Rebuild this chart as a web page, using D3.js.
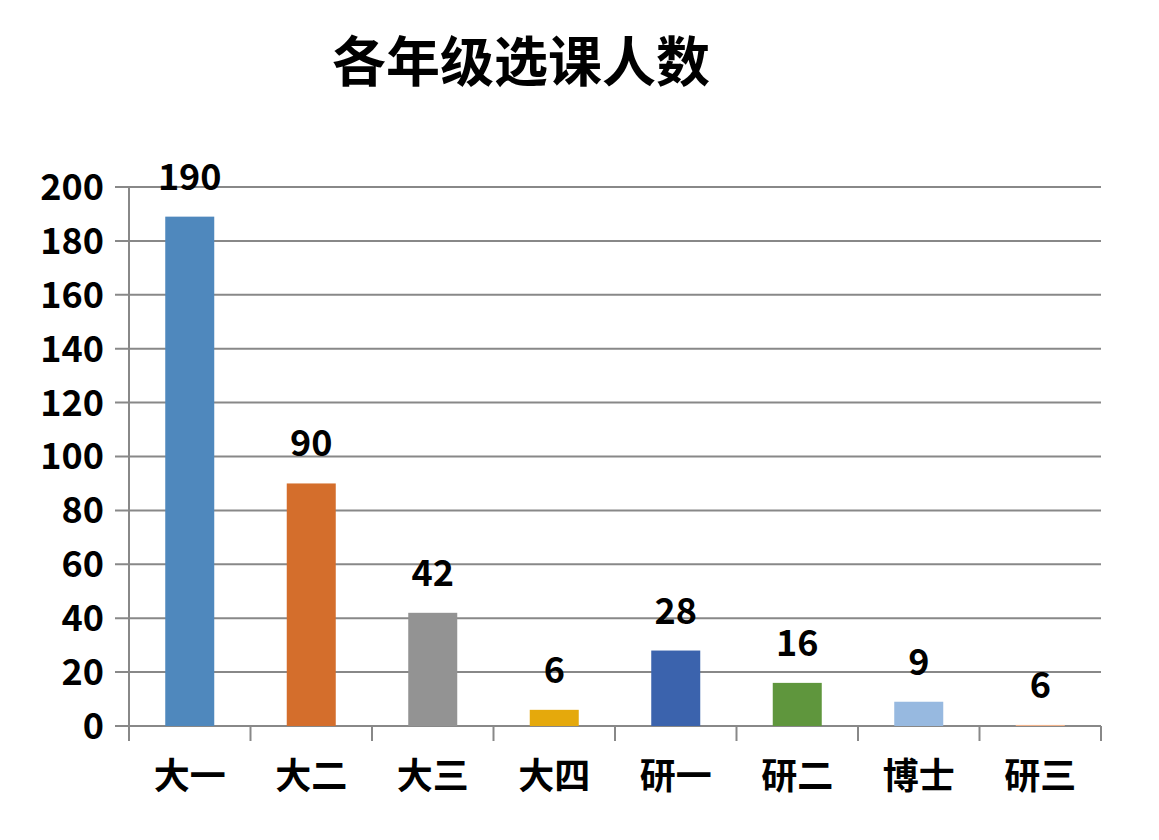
<!DOCTYPE html>
<html><head><meta charset="utf-8">
<script src="https://cdn.jsdelivr.net/npm/d3@7"></script>
<style>body{margin:0;background:#fff;} text{font-family:"Noto Sans CJK SC","Noto Sans",sans-serif;font-weight:bold;}</style>
</head><body>
<svg id="c" width="1159" height="840"></svg>
<script>
const title = "各年级选课人数";
const categories = ["大一","大二","大三","大四","研一","研二","博士","研三"];
const barValues = [189, 90, 42, 6, 28, 16, 9, 0.4];
const labelValues = ["190","90","42","6","28","16","9","6"];
const colors = ["#4f88bd","#d46e2c","#939393","#e5a90c","#3b63ad","#5f963d","#97b9e0","#f2b48c"];
const yTicks = [0,20,40,60,80,100,120,140,160,180,200];

const svg = d3.select("#c");
const m = {l:129, r:1101, t:187, b:726};
const x = d3.scaleBand().domain(categories).range([m.l, m.r]).paddingInner(0).paddingOuter(0);
const y = d3.scaleLinear().domain([0,200]).range([m.b, m.t]);
const grid = "#888";

svg.append("text").attr("x",521).attr("y",82).attr("text-anchor","middle")
  .attr("font-size",54).attr("fill","#000").text(title);

// gridlines
svg.append("g").selectAll("line").data(yTicks).join("line")
  .attr("x1",m.l-14).attr("x2",m.r).attr("y1",d=>y(d)).attr("y2",d=>y(d))
  .attr("stroke",grid).attr("stroke-width",2);

// y axis line
svg.append("line").attr("x1",m.l).attr("x2",m.l).attr("y1",m.t).attr("y2",m.b+15)
  .attr("stroke",grid).attr("stroke-width",2);

// y labels
svg.append("g").selectAll("text").data(yTicks).join("text")
  .attr("x",104).attr("y",d=>y(d)).attr("dy","0.36em").attr("text-anchor","end")
  .attr("font-size",36).attr("fill","#000").text(d=>d);

// category ticks
const bounds = categories.map(c=>x(c)).concat([m.r]);
svg.append("g").selectAll("line").data(bounds.slice(1)).join("line")
  .attr("x1",d=>d).attr("x2",d=>d).attr("y1",m.b).attr("y2",m.b+15)
  .attr("stroke",grid).attr("stroke-width",2);

// bars
const bw = 49;
svg.append("g").selectAll("rect").data(barValues).join("rect")
  .attr("x",(d,i)=>x(categories[i])+x.bandwidth()/2-bw/2)
  .attr("width",bw)
  .attr("y",d=>y(d)).attr("height",d=>m.b-y(d))
  .attr("fill",(d,i)=>colors[i]);

// value labels
svg.append("g").selectAll("text").data(barValues).join("text")
  .attr("x",(d,i)=>x(categories[i])+x.bandwidth()/2)
  .attr("y",d=>y(d)-27).attr("text-anchor","middle")
  .attr("font-size",36).attr("fill","#000").text((d,i)=>labelValues[i]);

// category labels
svg.append("g").selectAll("text").data(categories).join("text")
  .attr("x",d=>x(d)+x.bandwidth()/2).attr("y",789).attr("text-anchor","middle")
  .attr("font-size",36).attr("fill","#000").text(d=>d);
</script>
</body></html>
